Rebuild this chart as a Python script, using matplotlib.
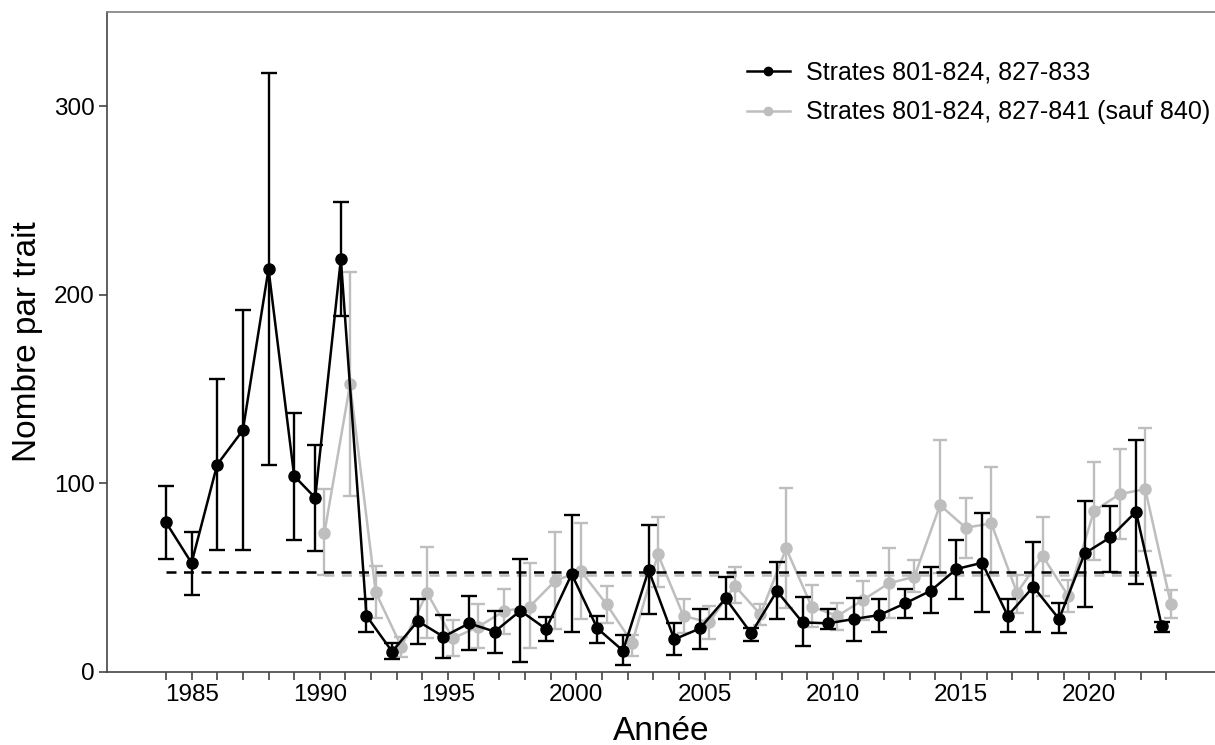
import numpy as np
import matplotlib.pyplot as plt
from matplotlib.lines import Line2D

plt.rcParams['font.family'] = ['Liberation Sans', 'DejaVu Sans']

# Strates 801-824, 827-833 (1984-2023)
years_a = np.arange(1984, 2024)
mean_a = [79.4, 57.8, 110.0, 128.2, 213.6, 103.9, 92.4, 218.9, 29.8, 10.8,
          27.0, 18.7, 25.8, 21.4, 32.5, 22.8, 51.9, 23.1, 11.3, 54.0,
          17.3, 23.1, 39.0, 20.5, 42.9, 26.3, 25.8, 28.1, 30.2, 36.4,
          43.1, 54.6, 57.9, 29.8, 45.2, 28.1, 62.9, 71.4, 85.0, 24.6]
low_a = [59.9, 40.8, 64.7, 64.7, 109.7, 70.0, 64.3, 188.8, 21.2, 6.9,
         14.8, 7.4, 11.7, 10.2, 5.5, 16.4, 21.4, 15.4, 3.7, 30.5,
         9.0, 12.4, 27.9, 16.6, 27.9, 13.8, 22.6, 16.6, 21.4, 28.8,
         31.1, 38.7, 32.0, 21.0, 21.4, 20.5, 34.3, 53.2, 46.6, 21.0]
high_a = [98.7, 74.4, 155.6, 191.8, 317.6, 137.4, 120.6, 249.2, 38.7, 15.4,
          38.7, 30.2, 40.3, 32.5, 59.7, 29.3, 83.2, 29.7, 19.6, 77.9,
          25.8, 33.2, 50.5, 23.1, 58.1, 39.6, 33.6, 39.0, 38.5, 43.8,
          55.5, 70.0, 84.1, 38.7, 69.1, 36.4, 90.8, 88.0, 123.0, 26.7]

# Strates 801-824, 827-841 (sauf 840) (1990-2023)
years_b = np.arange(1990, 2024)
mean_b = [73.8, 152.6, 42.2, 13.4, 42.0, 17.8, 24.0, 32.3, 34.6, 48.4,
          53.5, 35.9, 15.5, 62.4, 29.7, 26.3, 45.7, 30.5, 65.5, 34.6,
          29.7, 38.2, 47.0, 50.5, 88.5, 76.5, 78.8, 42.0, 61.5, 40.3,
          85.3, 94.3, 97.0, 36.0]
low_b = [51.4, 93.3, 28.4, 8.1, 17.8, 8.5, 12.5, 20.1, 12.5, 22.8,
         27.9, 26.1, 8.5, 45.0, 20.5, 17.5, 36.4, 24.9, 33.7, 23.7,
         22.3, 27.6, 28.4, 42.2, 52.6, 60.6, 51.4, 31.4, 40.3, 32.0,
         59.4, 70.3, 64.0, 28.8]
high_b = [96.8, 212.3, 56.2, 18.4, 66.4, 27.6, 36.0, 43.8, 57.6, 74.4,
          79.1, 45.6, 19.6, 82.3, 38.5, 35.0, 55.8, 35.9, 97.3, 46.1,
          36.7, 48.2, 65.9, 59.4, 123.0, 92.4, 108.8, 51.4, 82.0, 48.8,
          111.4, 118.0, 129.5, 43.5]

ref_a = 52.8
ref_b = 51.4
label_a = "Strates 801-824, 827-833"
label_b = "Strates 801-824, 827-841 (sauf 840)"

mean_a = np.array(mean_a)
mean_b = np.array(mean_b)

# dodge: years where both series exist are shifted apart
dodge = 0.18
x_a = years_a - np.where(np.isin(years_a, years_b), dodge, 0)
x_b = years_b + dodge

fig = plt.figure(figsize=(12.15, 7.45), dpi=100)
ax = fig.add_axes([0.088, 0.098, 0.912, 0.886])

grey = '#BEBEBE'
ax.hlines(ref_b, x_b[0], x_b[-1], colors=grey, linestyles=(0, (4, 3)), lw=1.8, zorder=1)
ax.hlines(ref_a, x_a[0], x_a[-1], colors='black', linestyles=(0, (4, 3)), lw=1.8, zorder=4)

ax.errorbar(x_b, mean_b, yerr=[mean_b - np.array(low_b), np.array(high_b) - mean_b],
            color=grey, ecolor=grey, lw=1.8, elinewidth=1.7, capsize=5, capthick=1.7,
            marker='o', markersize=8, zorder=2)
ax.errorbar(x_a, mean_a, yerr=[mean_a - np.array(low_a), np.array(high_a) - mean_a],
            color='black', ecolor='black', lw=1.8, elinewidth=1.7, capsize=5.5, capthick=1.7,
            marker='o', markersize=8, zorder=5)

ax.set_xlim(1981.7, 2024.9)
ax.set_ylim(0, 350)
ax.set_xticks(np.arange(1984, 2024))
ax.set_xticklabels([str(y) if y % 5 == 0 else '' for y in range(1984, 2024)])
ax.set_yticks([0, 100, 200, 300])
ax.tick_params(axis='both', length=6, width=1.2, color='#444444', labelsize=17.5,
               labelcolor='black', pad=3)

for s in ['left', 'bottom', 'top']:
    ax.spines[s].set_linewidth(1.2)
ax.spines['top'].set_color('#7f7f7f')
ax.spines['bottom'].set_color('#444444')
ax.spines['left'].set_color('#444444')
ax.spines['right'].set_visible(False)

ax.set_xlabel("Année", fontsize=24, labelpad=7)
ax.set_ylabel("Nombre par trait", fontsize=24, labelpad=8)

leg_handles = [Line2D([], [], color='black', lw=1.8, marker='o', markersize=6),
               Line2D([], [], color=grey, lw=1.8, marker='o', markersize=6)]
ax.legend(leg_handles, [label_a, label_b], loc='upper right', bbox_to_anchor=(1.016, 0.96),
          frameon=False, fontsize=18, handlelength=1.7, handletextpad=0.65, labelspacing=0.62)

fig.savefig('out.png', dpi=100)
